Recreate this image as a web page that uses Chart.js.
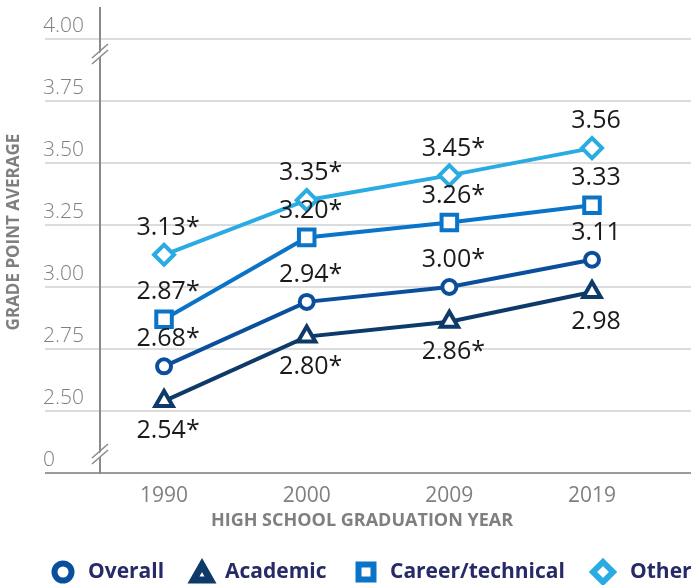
<!DOCTYPE html>
<html>
<head>
<meta charset="utf-8">
<script src="https://cdn.jsdelivr.net/npm/chart.js@4.4.1/dist/chart.umd.min.js"></script>
<style>
  html, body { margin: 0; padding: 0; background: #fff; }
  #wrap { width: 691px; height: 585px; }
</style>
</head>
<body>
<div id="wrap"><canvas id="chart"></canvas></div>
<script>
// ==================== DADOS ====================
const years = ['1990', '2000', '2009', '2019'];

const overall = [2.68, 2.94, 3.00, 3.11];
const academic = [2.54, 2.80, 2.86, 2.98];
const career = [2.87, 3.20, 3.26, 3.33];
const other = [3.13, 3.35, 3.45, 3.56];

// labels with significance marker
const overallLabels = ['2.68*', '2.94*', '3.00*', '3.11'];
const academicLabels = ['2.54*', '2.80*', '2.86*', '2.98'];
const careerLabels = ['2.87*', '3.20*', '3.26*', '3.33'];
const otherLabels = ['3.13*', '3.35*', '3.45*', '3.56'];

// 2.25 is shown as "0" (broken axis)
const yTickValues = [2.25, 2.50, 2.75, 3.00, 3.25, 3.50, 3.75, 4.00];
const yTickLabels = ['0', '2.50', '2.75', '3.00', '3.25', '3.50', '3.75', '4.00'];

const FONT = "'Open Sans', 'Noto Sans', sans-serif";
const GRAY = '#7f7f7f';

const toPoints = arr => arr.map((v, i) => ({ x: i, y: v }));

function serie(label, data, color, style, radius, labels, below) {
  return {
    label: label,
    data: toPoints(data),
    borderColor: color,
    backgroundColor: '#fff',
    borderWidth: 4,
    pointStyle: style,
    pointRadius: radius,
    pointHoverRadius: radius,
    pointBorderWidth: 4,
    pointBackgroundColor: '#fff',
    pointBorderColor: color,
    tension: 0,
    valueLabels: labels,
    labelBelow: below
  };
}

// posicoes da legenda (marcador, texto)
const legendPos = [[63, 88], [202, 225], [366, 390], [603, 630]];

// marcador da legenda
function drawShape(ctx, style, x, y) {
  if (style === 'circle') {
    ctx.arc(x, y, 8.5, 0, Math.PI * 2);
  } else if (style === 'triangle') {
    ctx.moveTo(x, y - 9);
    ctx.lineTo(x + 8.5, y + 6);
    ctx.lineTo(x - 8.5, y + 6);
    ctx.closePath();
  } else if (style === 'rect') {
    ctx.rect(x - 7.5, y - 7.5, 15, 15);
  } else {
    ctx.moveTo(x, y - 10);
    ctx.lineTo(x + 10, y);
    ctx.lineTo(x, y + 10);
    ctx.lineTo(x - 10, y);
    ctx.closePath();
  }
}

// ==================== PLUGIN EXTRAS ====================
const extras = {
  id: 'extras',
  afterDraw(chart) {
    const ctx = chart.ctx;
    const ax = chart.scales.y.right;

    // quebras do eixo
    [54, 454].forEach(yc => {
      ctx.save();
      ctx.fillStyle = '#fff';
      ctx.beginPath();
      ctx.moveTo(ax - 6, yc + 4);
      ctx.lineTo(ax + 6, yc - 7);
      ctx.lineTo(ax + 6, yc - 2);
      ctx.lineTo(ax - 6, yc + 9);
      ctx.closePath();
      ctx.fill();
      ctx.strokeStyle = '#8a8a8a';
      ctx.lineWidth = 1.5;
      [-3, 3].forEach(d => {
        ctx.beginPath();
        ctx.moveTo(ax - 8, yc + 7 + d);
        ctx.lineTo(ax + 8, yc - 7 + d);
        ctx.stroke();
      });
      ctx.restore();
    });

    // titulos dos eixos
    ctx.save();
    ctx.fillStyle = GRAY;
    ctx.textAlign = 'center';
    ctx.textBaseline = 'middle';
    ctx.font = 'bold 18px ' + FONT;
    ctx.fillText('HIGH SCHOOL GRADUATION YEAR', 362, 521);
    ctx.font = 'bold 17px ' + FONT;
    ctx.translate(14, 232);
    ctx.rotate(-Math.PI / 2);
    ctx.fillText('GRADE POINT AVERAGE', 0, 0);
    ctx.restore();

    // legenda
    ctx.save();
    ctx.font = 'bold 21px ' + FONT;
    ctx.textAlign = 'left';
    ctx.textBaseline = 'middle';
    chart.data.datasets.forEach((ds, i) => {
      const [mx, tx] = legendPos[i];
      const tri = ds.pointStyle === 'triangle';
      ctx.fillStyle = '#fff';
      ctx.strokeStyle = ds.borderColor;
      ctx.lineWidth = tri ? 7 : 6;
      ctx.lineJoin = 'miter';
      ctx.beginPath();
      drawShape(ctx, ds.pointStyle, mx, tri ? 574 : 572);
      ctx.fill();
      ctx.stroke();
      ctx.fillStyle = '#262a66';
      ctx.fillText(ds.label, tx, 572);
    });
    ctx.restore();
  },
  afterDatasetsDraw(chart) {
    const ctx = chart.ctx;
    ctx.save();
    ctx.font = '25px ' + FONT;
    ctx.fillStyle = '#1a1a1a';
    ctx.textAlign = 'center';
    ctx.textBaseline = 'middle';
    chart.data.datasets.forEach((ds, i) => {
      const meta = chart.getDatasetMeta(i);
      meta.data.forEach((pt, j) => {
        const dy = ds.labelBelow ? 30 : -27;
        ctx.fillText(ds.valueLabels[j], pt.x + 4, pt.y + dy);
      });
    });
    ctx.restore();
  }
};

// ==================== GRAFICO ====================
const chart = new Chart(document.getElementById('chart'), {
  type: 'line',
  data: {
    datasets: [
      serie('Overall', overall, '#0b4f9c', 'circle', 7, overallLabels, false),
      serie('Academic', academic, '#0d3a69', 'triangle', 10, academicLabels, true),
      serie('Career/technical', career, '#0a74c8', 'rect', 11, careerLabels, false),
      serie('Other', other, '#2aabe2', 'rectRot', 10, otherLabels, false)
    ]
  },
  options: {
    responsive: true,
    maintainAspectRatio: false,
    animation: false,
    layout: { autoPadding: false, padding: { top: 8, left: 43, right: 0, bottom: 0 } },
    plugins: {
      tooltip: { enabled: false },
      legend: { display: false }
    },
    scales: {
      x: {
        type: 'linear',
        min: -0.449,
        max: 3.694,
        afterBuildTicks: s => { s.ticks = years.map((y, i) => ({ value: i })); },
        afterFit: s => { s.height = 112; s.paddingLeft = 0; s.paddingRight = 0; },
        grid: { display: false, drawTicks: false },
        border: { display: false },
        ticks: {
          padding: 10,
          color: GRAY,
          font: { family: FONT, size: 21 },
          callback: v => years[v]
        }
      },
      y: {
        type: 'linear',
        min: 2.25,
        max: 4.125,
        afterBuildTicks: s => { s.ticks = yTickValues.map(v => ({ value: v })); },
        afterFit: s => { s.width = 57; s.paddingTop = 0; s.paddingBottom = 0; },
        border: { display: true, color: '#8a8a8a', width: 2 },
        grid: {
          color: c => c.tick && c.tick.value === 2.25 ? '#9a9a9a' : '#dcdcdc',
          lineWidth: 2,
          drawTicks: true,
          tickLength: 55
        },
        ticks: {
          crossAlign: 'far',
          labelOffset: -13,
          color: GRAY,
          font: { family: FONT, size: 21, weight: '300', lineHeight: 0.5 },
          callback: v => yTickLabels[yTickValues.indexOf(v)]
        }
      }
    }
  },
  plugins: [extras]
});
</script>
</body>
</html>
